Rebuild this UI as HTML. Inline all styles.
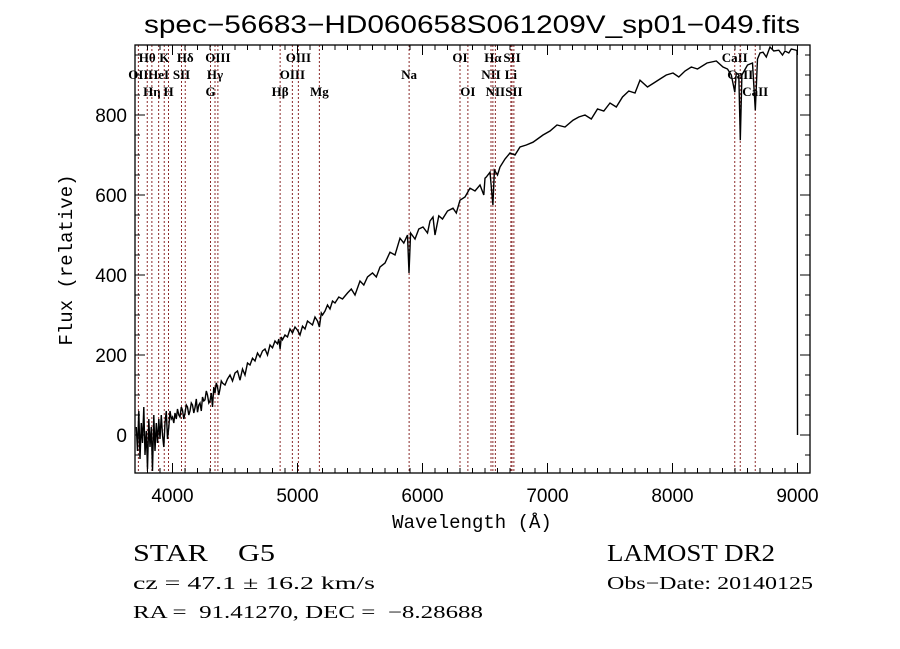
<!DOCTYPE html>
<html><head><meta charset="utf-8"><style>
body{margin:0;background:#fff;width:900px;height:649px;overflow:hidden}
svg{display:block}
text{white-space:pre}
</style></head><body>
<svg id="chart" width="900" height="649" xmlns="http://www.w3.org/2000/svg" xml:space="preserve">
<text x="472" y="33" text-anchor="middle" font-family="Liberation Sans, sans-serif" font-size="25" textLength="656" lengthAdjust="spacingAndGlyphs">spec−56683−HD060658S061209V_sp01−049.fits</text>
<text x="472" y="528" text-anchor="middle" font-family="Liberation Mono, monospace" font-size="19">Wavelength (Å)</text>
<text transform="translate(72,260) rotate(-90)" text-anchor="middle" font-family="Liberation Mono, monospace" font-size="19">Flux (relative)</text>
<g font-family="Liberation Serif, serif" fill="#000">
<text x="133" y="561" font-size="24" textLength="142" lengthAdjust="spacingAndGlyphs">STAR    G5</text>
<text x="607" y="561" font-size="24" textLength="168" lengthAdjust="spacingAndGlyphs">LAMOST DR2</text>
<text x="133" y="589" font-size="18" textLength="242" lengthAdjust="spacingAndGlyphs">cz = 47.1 ± 16.2 km/s</text>
<text x="607" y="589" font-size="18" textLength="206" lengthAdjust="spacingAndGlyphs">Obs−Date: 20140125</text>
<text x="133" y="618" font-size="18" textLength="350" lengthAdjust="spacingAndGlyphs">RA =  91.41270, DEC =  −8.28688</text>
</g>
</svg>
<script>
const xTicks=[4000,5000,6000,7000,8000,9000];
const yTicks=[0,200,400,600,800];
const lineNames=["OII","Hθ","Hη","HeI","K","H","SII","Hδ","G","Hγ","OIII","Hβ","OIII","OIII","Mg","Na","OI","OI","NII","Hα","NII","Li","SII","SII","CaII","CaII","CaII"];
const lineWaves=[3727,3798,3835,3889,3934,3968,4072,4102,4304,4340,4363,4861,4959,5007,5175,5893,6300,6363,6548,6563,6583,6707,6716,6731,8498,8542,8662];
const lineRows=[1,0,2,1,0,2,1,0,2,1,0,2,1,0,2,1,0,2,1,0,2,1,0,2,0,1,2];
const waves=[3710,3720,3730,3740,3750,3760,3770,3780,3790,3800,3810,3820,3830,3840,3850,3860,3870,3880,3890,3900,3910,3920,3930,3940,3950,3960,3970,3980,3990,4000,4010,4020,4030,4040,4050,4060,4070,4080,4090,4100,4110,4120,4130,4140,4150,4160,4170,4180,4190,4200,4210,4220,4230,4240,4250,4260,4270,4280,4290,4300,4310,4320,4330,4340,4350,4360,4370,4380,4390,4400,4420,4440,4460,4480,4500,4520,4540,4560,4580,4600,4620,4640,4660,4680,4700,4720,4740,4760,4780,4800,4820,4840,4850,4861,4870,4880,4900,4920,4940,4960,4980,5000,5020,5040,5060,5080,5100,5120,5140,5160,5175,5190,5200,5220,5240,5260,5280,5300,5330,5360,5400,5430,5460,5500,5530,5560,5600,5630,5660,5700,5740,5780,5820,5850,5880,5892,5905,5940,5970,6004,6040,6060,6084,6100,6130,6160,6200,6244,6270,6300,6340,6380,6420,6460,6490,6500,6510,6540,6563,6575,6600,6620,6660,6700,6740,6780,6830,6884,6920,6964,7020,7076,7140,7204,7250,7300,7350,7400,7450,7500,7550,7600,7650,7700,7740,7800,7850,7900,7950,8004,8050,8100,8150,8200,8276,8350,8404,8440,8470,8498,8510,8530,8542,8555,8600,8640,8662,8680,8700,8724,8750,8780,8810,8850,8880,8900,8930,8950,8990,8996,9000];
const flux=[20,-40,60,-60,30,-20,70,-50,10,-85,40,-30,20,-90,50,-40,30,-20,40,-10,50,0,-30,30,60,-10,20,60,40,45,30,55,40,65,50,45,70,62,40,55,75,70,50,60,80,75,55,68,90,57,75,80,60,95,85,88,110,100,80,85,105,70,120,105,130,120,100,115,135,130,125,140,150,135,155,160,137,165,150,180,175,192,185,205,195,210,215,200,225,218,235,228,240,215,245,238,250,245,265,255,270,262,250,272,265,285,280,275,295,285,270,305,300,310,325,315,335,330,345,340,355,365,350,385,375,395,405,395,420,430,457,450,492,480,500,405,505,490,515,520,505,535,545,500,548,540,560,567,555,587,595,617,610,625,600,642,645,657,575,662,650,670,690,705,700,720,725,732,740,750,760,775,770,787,795,800,790,815,810,830,820,845,860,855,887,870,880,890,900,905,895,910,920,915,930,935,920,915,900,857,905,900,737,900,925,930,812,940,955,957,945,970,960,962,950,960,955,965,962,960,0];

const svg=document.getElementById('chart');
const NS='http://www.w3.org/2000/svg';
const L=135,R=810,T=45,B=473,X0=3700,X1=9100,Y0=-95,Y1=975;
const sx=w=>L+(w-X0)/(X1-X0)*(R-L);
const sy=f=>B-(f-Y0)/(Y1-Y0)*(B-T);
function mk(tag,attrs){const e=document.createElementNS(NS,tag);for(const k in attrs)e.setAttribute(k,attrs[k]);svg.appendChild(e);return e;}

lineWaves.forEach((w,i)=>{
  const ln=mk('line',{x1:sx(w),x2:sx(w),y1:T,y2:B,stroke:'#8b2a2a','stroke-width':1,'stroke-dasharray':'2,2'});
  
  
  const t=mk('text',{x:sx(w),y:62+lineRows[i]*17,'text-anchor':'middle','font-family':'Liberation Serif, serif','font-size':13,'font-weight':'bold'});
  t.textContent=lineNames[i];
  
  
});

let d='';
waves.forEach((w,i)=>{d+=(i?'L':'M')+sx(w).toFixed(1)+','+sy(flux[i]).toFixed(1);});
const p=mk('path',{d:d,fill:'none',stroke:'#000','stroke-width':1.4});



const fr=mk('rect',{x:L,y:T,width:R-L,height:B-T,fill:'none',stroke:'#000','stroke-width':1.3});



for(let w=3800;w<=X1;w+=100){
  const len=(w%1000===0)?10:5;
  mk('line',{x1:sx(w),x2:sx(w),y1:B,y2:B-len,stroke:'#000'});
  mk('line',{x1:sx(w),x2:sx(w),y1:T,y2:T+len,stroke:'#000'});
}
for(let f=-50;f<=Y1;f+=50){
  const len=(f%200===0)?10:5;
  mk('line',{x1:L,x2:L+len,y1:sy(f),y2:sy(f),stroke:'#000'});
  mk('line',{x1:R,x2:R-len,y1:sy(f),y2:sy(f),stroke:'#000'});
}
xTicks.forEach(v=>{
  const t=mk('text',{x:sx(v),y:B+29,'text-anchor':'middle','font-family':'Liberation Sans, sans-serif','font-size':19});
  t.textContent=v;
  
  
});
yTicks.forEach(v=>{
  const t=mk('text',{x:L-8,y:sy(v)+7,'text-anchor':'end','font-family':'Liberation Sans, sans-serif','font-size':19});
  t.textContent=v;
  
  
});
</script>
</body></html>
